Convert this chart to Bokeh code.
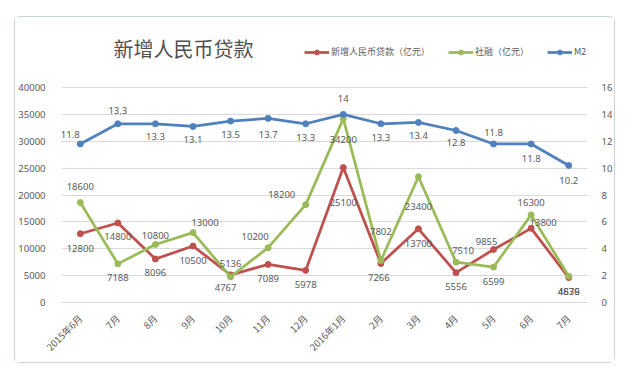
from math import pi
from bokeh.plotting import figure
from bokeh.models import (ColumnDataSource, Range1d, LinearAxis, LabelSet, Label,
                          Legend, LegendItem, FixedTicker)
from bokeh.embed import file_html
from bokeh.resources import INLINE
from bokeh.core.properties import value

# ---- data ----
months = ["2015年6月", "7月", "8月", "9月", "10月", "11月", "12月",
          "2016年1月", "2月", "3月", "4月", "5月", "6月", "7月"]
loans = [12800, 14800, 8096, 10500, 5136, 7089, 5978, 25100, 7266, 13700, 5556, 9855, 13800, 4636]
tsf = [18600, 7188, 10800, 13000, 4767, 10200, 18200, 34200, 7802, 23400, 7510, 6599, 16300, 4879]
m2 = [11.8, 13.3, 13.3, 13.1, 13.5, 13.7, 13.3, 14, 13.3, 13.4, 12.8, 11.8, 11.8, 10.2]
left_ticks = [0, 5000, 10000, 15000, 20000, 25000, 30000, 35000, 40000]
right_ticks = [0, 2, 4, 6, 8, 10, 12, 14, 16]
series_names = ["新增人民币贷款（亿元）", "社融（亿元）", "M2"]
title_text = "新增人民币贷款"

# ---- label placement (screen px offsets, style only) ----
loans_dx = [0, 0, 0, 0, 0, 0, 0, 0, -2, 0, 0, -7, 12, 0]
loans_dy = [-15, -14, -14, -14, 11, -14, -14, -35, -14, -15, -14, 8, 6, -14]
tsf_dx = [0, 0, 0, 12, -5, -13, -24, 0, 0, 0, 7, 0, 0, 0]
tsf_dy = [16, -14, 9, 10, -11, 11, 10, -21, 29, -30, 12, -14, 12, -15]
m2_dx = [-10, 0, 0, 0, 0, 0, 0, 0, 0, 0, 0, 0, 0, 0]
m2_dy = [9, 13, -13, -13, -13, -16, -14, 16, -14, -13, -12, 11, -15, -15]

RED = "#C0504D"
GREEN = "#9BBB59"
BLUE = "#4F81BD"
TXT = "#595959"
GRID = "#D9D9D9"
NUMFONT = "Noto Sans"
CJK = "Noto Sans CJK SC"

# layout (px): frame extends above the top gridline to hold title + legend
FRAME_H = 272      # full frame height
PLOT_H = 215       # height between 0 and the top tick
def fmt(v):
    return f"{v:g}"

pos = list(range(len(months)))  # months repeat, so index the categories

src = ColumnDataSource(dict(
    pos=pos, loans=loans, tsf=tsf, m2=m2,
    loans_t=[fmt(v) for v in loans], tsf_t=[fmt(v) for v in tsf], m2_t=[fmt(v) for v in m2],
    ldx=loans_dx, ldy=loans_dy, tdx=tsf_dx, tdy=tsf_dy, mdx=m2_dx, mdy=m2_dy,
))

y_top = left_ticks[-1] * FRAME_H / PLOT_H
m2_top = right_ticks[-1] * FRAME_H / PLOT_H

p = figure(width=601, height=347, x_range=Range1d(-0.5, len(months) - 0.5), y_range=Range1d(0, y_top),
           output_backend="svg", toolbar_location=None,
           min_border_left=45, min_border_right=29, min_border_top=13, min_border_bottom=62)
p.styles = {"margin-left": "14px", "margin-top": "16px",
            "border": "1px solid #c9d3d7", "border-radius": "6px"}
p.outline_line_color = None
p.background_fill_color = "white"
p.border_fill_color = "white"

p.extra_y_ranges = {"m2": Range1d(0, m2_top)}

# axes
p.yaxis.ticker = FixedTicker(ticks=left_ticks)
for ax in p.yaxis:
    ax.axis_line_color = None
    ax.major_tick_line_color = None
    ax.minor_tick_line_color = None
    ax.major_label_text_font = NUMFONT
    ax.major_label_text_font_size = "9.5px"
    ax.major_label_text_color = TXT
    ax.major_label_standoff = 10

rax = LinearAxis(y_range_name="m2", ticker=FixedTicker(ticks=right_ticks))
rax.axis_line_color = None
rax.major_tick_line_color = None
rax.minor_tick_line_color = None
rax.major_label_text_font = NUMFONT
rax.major_label_text_font_size = "9.5px"
rax.major_label_text_color = TXT
rax.major_label_standoff = 8
p.add_layout(rax, "right")

p.xaxis.ticker = FixedTicker(ticks=pos)
for ax in p.xaxis:
    ax.major_label_overrides = {i: m for i, m in zip(pos, months)}
    ax.axis_line_color = GRID
    ax.major_tick_line_color = None
    ax.minor_tick_line_color = None
    ax.major_label_orientation = pi / 4
    ax.major_label_text_font = CJK
    ax.major_label_text_font_size = "9.5px"
    ax.major_label_text_color = TXT
    ax.major_label_standoff = 8

p.xgrid.grid_line_color = None
p.ygrid.grid_line_color = GRID
p.ygrid.ticker = FixedTicker(ticks=left_ticks)

# series
r1 = p.line("pos", "loans", source=src, color=RED, line_width=2.75)
c1 = p.scatter("pos", "loans", source=src, size=6, color=RED)
r2 = p.line("pos", "tsf", source=src, color=GREEN, line_width=2.75)
c2 = p.scatter("pos", "tsf", source=src, size=6, color=GREEN)
r3 = p.line("pos", "m2", source=src, color=BLUE, line_width=2.75, y_range_name="m2")
c3 = p.scatter("pos", "m2", source=src, size=6, color=BLUE, y_range_name="m2")

def labels(yfield, tfield, dx, dy, rng="default"):
    return LabelSet(x="pos", y=yfield, text=tfield, source=src, x_offset=dx, y_offset=dy,
                    y_range_name=rng, text_align="center", text_baseline="middle",
                    text_font=value(NUMFONT), text_font_size="9.5px", text_color=TXT)

p.add_layout(labels("loans", "loans_t", "ldx", "ldy"))
p.add_layout(labels("tsf", "tsf_t", "tdx", "tdy"))
p.add_layout(labels("m2", "m2_t", "mdx", "mdy", "m2"))

legend = Legend(items=[LegendItem(label=series_names[0], renderers=[r1, c1]),
                       LegendItem(label=series_names[1], renderers=[r2, c2]),
                       LegendItem(label=series_names[2], renderers=[r3, c3])],
                location=(243, 244), orientation="horizontal")
legend.glyph_width = 25
legend.glyph_height = 12
legend.label_standoff = 2
legend.spacing = 18
legend.padding = 0
legend.margin = 0
legend.border_line_color = None
legend.background_fill_alpha = 0
legend.label_text_font = CJK
legend.label_text_font_size = "9px"
legend.label_text_color = TXT
p.add_layout(legend)

title = Label(x=122, y=254, x_units="screen", y_units="screen", text=title_text,
              text_align="center", text_baseline="middle", text_font=CJK,
              text_font_size="20px", text_font_style="normal", text_color="#505050")
p.add_layout(title)

open("out.html", "w").write(file_html(p, INLINE))
